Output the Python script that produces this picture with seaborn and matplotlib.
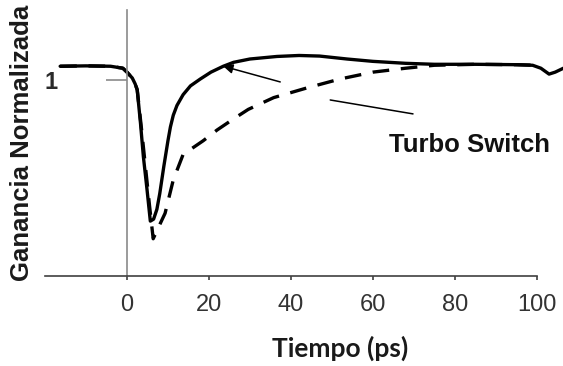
import numpy as np
import pandas as pd
import seaborn as sns
import matplotlib
matplotlib.use('Agg')
import matplotlib.pyplot as plt

# curve (time in ps, normalised gain)
tSolid = [-16.3, -10, -4, -1, 0, 1.3, 2, 2.5, 3.3, 4, 4.9, 5.7, 6.5, 7.3, 8, 9, 10, 10.6, 11.3,
          12.2, 13.7, 15.5, 17.9, 20.5, 23.5, 26, 30, 36.6, 42, 47, 53.7, 60, 68, 75, 85, 95,
          99, 101, 103, 104.5, 106.5]
gSolid = [1.07, 1.072, 1.07, 1.06, 1.04, 1.01, 0.98, 0.95, 0.78, 0.61, 0.44, 0.28, 0.29, 0.34,
          0.42, 0.56, 0.69, 0.76, 0.82, 0.87, 0.925, 0.97, 1.005, 1.04, 1.07, 1.09, 1.107, 1.12,
          1.125, 1.122, 1.107, 1.095, 1.085, 1.08, 1.08, 1.078, 1.075, 1.06, 1.03, 1.04, 1.06]

tDash = [-16.3, -10, -4, -1, 0, 1.3, 2, 2.5, 3.5, 4.5, 5.5, 6.4, 7.5, 9.3, 11.3, 13.7, 18.6,
         22, 25.9, 29.6, 35.8, 44, 52, 60, 68, 75, 85, 95, 100]
gDash = [1.07, 1.072, 1.07, 1.06, 1.04, 1.01, 0.98, 0.95, 0.76, 0.56, 0.36, 0.19, 0.24, 0.32,
         0.49, 0.62, 0.69, 0.745, 0.80, 0.85, 0.91, 0.96, 1.005, 1.04, 1.06, 1.075, 1.08,
         1.078, 1.075]

xTicks = [0, 20, 40, 60, 80, 100]

sns.set_style('white')
plt.rcParams['font.family'] = ['Liberation Sans', 'DejaVu Sans']

fig = plt.figure(figsize=(5.63, 3.66), dpi=100)
ax = fig.add_axes([45 / 563, 90 / 366, 518 / 563, 266 / 366])

sns.lineplot(x=tSolid, y=gSolid, ax=ax, color='black', lw=2.4, sort=False, estimator=None)
sns.lineplot(x=tDash, y=gDash, ax=ax, color='black', lw=2.4, sort=False, estimator=None)
ax.lines[-1].set_dashes((5, 3.5))

ax.set_xlim(-20, 106.4)
ax.set_ylim(0, 1.357)

for side in ['top', 'right']:
    ax.spines[side].set_visible(False)
ax.spines['left'].set_position(('data', 0))
ax.spines['left'].set_color('#8a8a8a')
ax.spines['left'].set_linewidth(1.2)
ax.spines['bottom'].set_color('#404040')
ax.spines['bottom'].set_linewidth(1.2)
ax.spines['bottom'].set_bounds(-20, 100)

ax.set_xticks(xTicks)
ax.set_xticklabels([str(v) for v in xTicks])
ax.tick_params(axis='x', bottom=True, direction='out', length=3, width=1.2, color='#404040',
               labelsize=17, labelcolor='#333333', pad=10)
ax.set_yticks([1])
ax.set_yticklabels(['1'])
ax.tick_params(axis='y', left=True, direction='out', length=15, width=1.2, color='#8a8a8a',
               labelsize=17, labelcolor='#2a2a2a', pad=35)
for lab in ax.get_yticklabels():
    lab.set_fontweight('bold')
    lab.set_va('center_baseline')

# arrow is broken where it passes the dashed curve
ax.annotate('', xy=(49.6, 0.898), xytext=(69.8, 0.827),
            arrowprops=dict(arrowstyle='-', color='black', lw=1.1, shrinkA=0, shrinkB=0))
ax.annotate('', xy=(23.5, 1.07), xytext=(37.4, 0.99),
            arrowprops=dict(arrowstyle='-|>', color='black', lw=1.1, mutation_scale=14,
                            shrinkA=0, shrinkB=0))
ax.text(83.6, 0.668, 'Turbo Switch', ha='center', va='center', fontsize=18.5,
        fontweight='bold', color='#111111')

fig.text(22 / 563, 1 - 143 / 366, 'Ganancia Normalizada', rotation=90, ha='center',
         va='center', fontsize=18.5, fontweight='bold', color='#1a1a1a')
fig.text(340 / 563, 1 - 348 / 366, 'Tiempo (ps)', ha='center', va='center', fontsize=19,
         fontweight='bold', color='#1a1a1a', family=['Lato', 'DejaVu Sans'])

fig.savefig('out.png', dpi=100)
